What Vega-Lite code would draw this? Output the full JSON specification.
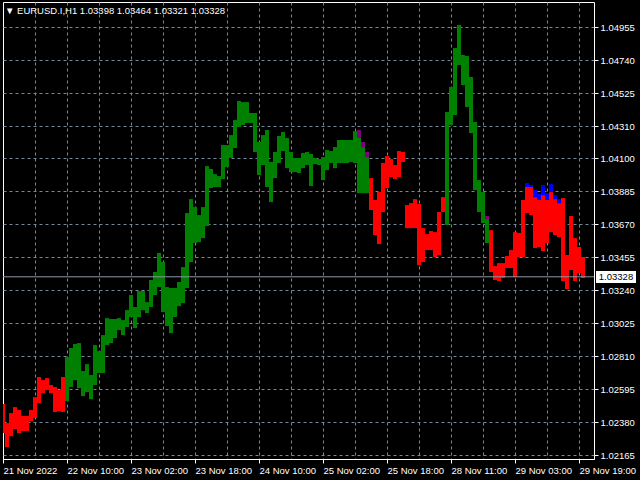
{
  "$schema": "https://vega.github.io/schema/vega-lite/v6.json",
  "width": 591,
  "height": 457,
  "autosize": "none",
  "padding": {"left": 3, "top": 2, "right": 46, "bottom": 21},
  "background": "#000000",
  "resolve": {"axis": {"x": "independent", "y": "independent"}},
  "config": {
    "view": {"stroke": "#ffffff", "strokeWidth": 1, "fill": "#000000"},
    "axis": {
      "labelColor": "#ffffff",
      "labelFont": "Liberation Sans",
      "labelFontSize": 9.5,
      "tickColor": "#ffffff",
      "domainColor": "#ffffff",
      "gridColor": "#778899",
      "gridDash": [3, 3],
      "gridWidth": 1,
      "labelOverlap": false,
      "labelBound": false,
      "labelFlush": false,
      "title": null
    },
    "text": {"font": "Liberation Sans"}
  },
  "datasets": {
    "bars": [
      {"i":0,"lo":1.02310,"hi":1.02499,"c":"down"},
      {"i":1,"lo":1.02219,"hi":1.02375,"c":"down"},
      {"i":2,"lo":1.02290,"hi":1.02440,"c":"down"},
      {"i":3,"lo":1.02336,"hi":1.02479,"c":"down"},
      {"i":4,"lo":1.02310,"hi":1.02460,"c":"down"},
      {"i":5,"lo":1.02323,"hi":1.02421,"c":"down"},
      {"i":6,"lo":1.02323,"hi":1.02421,"c":"down"},
      {"i":7,"lo":1.02388,"hi":1.02460,"c":"down"},
      {"i":8,"lo":1.02408,"hi":1.02544,"c":"down"},
      {"i":9,"lo":1.02505,"hi":1.02675,"c":"down"},
      {"i":10,"lo":1.02570,"hi":1.02655,"c":"down"},
      {"i":11,"lo":1.02590,"hi":1.02668,"c":"down"},
      {"i":12,"lo":1.02570,"hi":1.02623,"c":"down"},
      {"i":13,"lo":1.02447,"hi":1.02610,"c":"down"},
      {"i":14,"lo":1.02453,"hi":1.02590,"c":"down"},
      {"i":15,"lo":1.02447,"hi":1.02675,"c":"down"},
      {"i":16,"lo":1.02518,"hi":1.02805,"c":"up"},
      {"i":17,"lo":1.02610,"hi":1.02864,"c":"up"},
      {"i":18,"lo":1.02655,"hi":1.02890,"c":"up"},
      {"i":19,"lo":1.02603,"hi":1.02896,"c":"up"},
      {"i":20,"lo":1.02551,"hi":1.02714,"c":"up"},
      {"i":21,"lo":1.02577,"hi":1.02759,"c":"up"},
      {"i":22,"lo":1.02531,"hi":1.02688,"c":"up"},
      {"i":23,"lo":1.02623,"hi":1.02883,"c":"up"},
      {"i":24,"lo":1.02701,"hi":1.02844,"c":"up"},
      {"i":25,"lo":1.02701,"hi":1.02948,"c":"up"},
      {"i":26,"lo":1.02883,"hi":1.03059,"c":"up"},
      {"i":27,"lo":1.02896,"hi":1.03053,"c":"up"},
      {"i":28,"lo":1.02929,"hi":1.03053,"c":"up"},
      {"i":29,"lo":1.02981,"hi":1.03059,"c":"up"},
      {"i":30,"lo":1.02948,"hi":1.03046,"c":"up"},
      {"i":31,"lo":1.03001,"hi":1.03111,"c":"up"},
      {"i":32,"lo":1.03066,"hi":1.03209,"c":"up"},
      {"i":33,"lo":1.02994,"hi":1.03131,"c":"up"},
      {"i":34,"lo":1.03066,"hi":1.03235,"c":"up"},
      {"i":35,"lo":1.03111,"hi":1.03235,"c":"up"},
      {"i":36,"lo":1.03092,"hi":1.03163,"c":"up"},
      {"i":37,"lo":1.03131,"hi":1.03307,"c":"up"},
      {"i":38,"lo":1.03209,"hi":1.03359,"c":"up"},
      {"i":39,"lo":1.03261,"hi":1.03483,"c":"up"},
      {"i":40,"lo":1.03098,"hi":1.03424,"c":"up"},
      {"i":41,"lo":1.03007,"hi":1.03261,"c":"up"},
      {"i":42,"lo":1.02961,"hi":1.03255,"c":"up"},
      {"i":43,"lo":1.03066,"hi":1.03255,"c":"up"},
      {"i":44,"lo":1.03137,"hi":1.03294,"c":"up"},
      {"i":45,"lo":1.03157,"hi":1.03391,"c":"up"},
      {"i":46,"lo":1.03255,"hi":1.03743,"c":"up"},
      {"i":47,"lo":1.03424,"hi":1.03834,"c":"up"},
      {"i":48,"lo":1.03548,"hi":1.03782,"c":"up"},
      {"i":49,"lo":1.03554,"hi":1.03730,"c":"up"},
      {"i":50,"lo":1.03580,"hi":1.03782,"c":"up"},
      {"i":51,"lo":1.03659,"hi":1.04049,"c":"up"},
      {"i":52,"lo":1.03906,"hi":1.04030,"c":"up"},
      {"i":53,"lo":1.03913,"hi":1.03997,"c":"up"},
      {"i":54,"lo":1.03913,"hi":1.03984,"c":"up"},
      {"i":55,"lo":1.03965,"hi":1.04186,"c":"up"},
      {"i":56,"lo":1.04043,"hi":1.04186,"c":"up"},
      {"i":57,"lo":1.04102,"hi":1.04251,"c":"up"},
      {"i":58,"lo":1.04167,"hi":1.04349,"c":"up"},
      {"i":59,"lo":1.04304,"hi":1.04473,"c":"up"},
      {"i":60,"lo":1.04317,"hi":1.04466,"c":"up"},
      {"i":61,"lo":1.04330,"hi":1.04466,"c":"up"},
      {"i":62,"lo":1.04330,"hi":1.04395,"c":"up"},
      {"i":63,"lo":1.04141,"hi":1.04395,"c":"up"},
      {"i":64,"lo":1.03991,"hi":1.04206,"c":"up"},
      {"i":65,"lo":1.04056,"hi":1.04251,"c":"up"},
      {"i":66,"lo":1.03913,"hi":1.04284,"c":"up"},
      {"i":67,"lo":1.03815,"hi":1.04076,"c":"up"},
      {"i":68,"lo":1.03971,"hi":1.04141,"c":"up"},
      {"i":69,"lo":1.04069,"hi":1.04245,"c":"up"},
      {"i":70,"lo":1.04147,"hi":1.04271,"c":"up"},
      {"i":71,"lo":1.04036,"hi":1.04232,"c":"up"},
      {"i":72,"lo":1.04010,"hi":1.04141,"c":"up"},
      {"i":73,"lo":1.04010,"hi":1.04102,"c":"up"},
      {"i":74,"lo":1.04004,"hi":1.04102,"c":"up"},
      {"i":75,"lo":1.04036,"hi":1.04134,"c":"up"},
      {"i":76,"lo":1.04056,"hi":1.04141,"c":"up"},
      {"i":77,"lo":1.03919,"hi":1.04128,"c":"up"},
      {"i":78,"lo":1.04062,"hi":1.04102,"c":"up"},
      {"i":79,"lo":1.04056,"hi":1.04095,"c":"up"},
      {"i":80,"lo":1.03958,"hi":1.04108,"c":"up"},
      {"i":81,"lo":1.04023,"hi":1.04154,"c":"up"},
      {"i":82,"lo":1.04069,"hi":1.04147,"c":"up"},
      {"i":83,"lo":1.04036,"hi":1.04173,"c":"up"},
      {"i":84,"lo":1.04069,"hi":1.04219,"c":"up"},
      {"i":85,"lo":1.04069,"hi":1.04219,"c":"up"},
      {"i":86,"lo":1.04069,"hi":1.04219,"c":"up"},
      {"i":87,"lo":1.04076,"hi":1.04219,"c":"up"},
      {"i":88,"lo":1.04069,"hi":1.04277,"c":"up"},
      {"i":89,"lo":1.03873,"hi":1.04232,"c":"up"},
      {"i":89,"lo":1.04232,"hi":1.04284,"c":"purple"},
      {"i":90,"lo":1.03873,"hi":1.04173,"c":"up"},
      {"i":90,"lo":1.04173,"hi":1.04206,"c":"purple"},
      {"i":91,"lo":1.03873,"hi":1.04108,"c":"up"},
      {"i":91,"lo":1.04108,"hi":1.04141,"c":"purple"},
      {"i":92,"lo":1.03763,"hi":1.03971,"c":"down"},
      {"i":93,"lo":1.03600,"hi":1.03828,"c":"down"},
      {"i":94,"lo":1.03541,"hi":1.03880,"c":"down"},
      {"i":95,"lo":1.03750,"hi":1.04069,"c":"down"},
      {"i":96,"lo":1.03906,"hi":1.04115,"c":"down"},
      {"i":97,"lo":1.03978,"hi":1.04095,"c":"down"},
      {"i":98,"lo":1.03965,"hi":1.04056,"c":"down"},
      {"i":99,"lo":1.03978,"hi":1.04147,"c":"down"},
      {"i":100,"lo":1.04076,"hi":1.04141,"c":"down"},
      {"i":101,"lo":1.03645,"hi":1.03795,"c":"down"},
      {"i":102,"lo":1.03645,"hi":1.03808,"c":"down"},
      {"i":103,"lo":1.03645,"hi":1.03834,"c":"down"},
      {"i":104,"lo":1.03404,"hi":1.03802,"c":"down"},
      {"i":105,"lo":1.03424,"hi":1.03645,"c":"down"},
      {"i":106,"lo":1.03502,"hi":1.03606,"c":"down"},
      {"i":107,"lo":1.03502,"hi":1.03626,"c":"down"},
      {"i":108,"lo":1.03457,"hi":1.03619,"c":"down"},
      {"i":109,"lo":1.03470,"hi":1.03750,"c":"down"},
      {"i":110,"lo":1.03750,"hi":1.03847,"c":"down"},
      {"i":111,"lo":1.03665,"hi":1.04401,"c":"up"},
      {"i":112,"lo":1.04317,"hi":1.04564,"c":"up"},
      {"i":113,"lo":1.04382,"hi":1.04818,"c":"up"},
      {"i":114,"lo":1.04707,"hi":1.04968,"c":"up"},
      {"i":115,"lo":1.04577,"hi":1.04773,"c":"up"},
      {"i":116,"lo":1.04434,"hi":1.04766,"c":"up"},
      {"i":117,"lo":1.04264,"hi":1.04629,"c":"up"},
      {"i":118,"lo":1.03893,"hi":1.04336,"c":"up"},
      {"i":119,"lo":1.03750,"hi":1.03958,"c":"up"},
      {"i":120,"lo":1.03678,"hi":1.03880,"c":"up"},
      {"i":121,"lo":1.03548,"hi":1.03704,"c":"up"},
      {"i":121,"lo":1.03704,"hi":1.03724,"c":"purple"},
      {"i":122,"lo":1.03359,"hi":1.03632,"c":"down"},
      {"i":123,"lo":1.03307,"hi":1.03398,"c":"down"},
      {"i":124,"lo":1.03300,"hi":1.03417,"c":"down"},
      {"i":125,"lo":1.03320,"hi":1.03417,"c":"down"},
      {"i":126,"lo":1.03385,"hi":1.03463,"c":"down"},
      {"i":127,"lo":1.03385,"hi":1.03502,"c":"down"},
      {"i":128,"lo":1.03326,"hi":1.03619,"c":"down"},
      {"i":129,"lo":1.03457,"hi":1.03613,"c":"down"},
      {"i":130,"lo":1.03457,"hi":1.03828,"c":"down"},
      {"i":131,"lo":1.03743,"hi":1.03913,"c":"down"},
      {"i":131,"lo":1.03913,"hi":1.03939,"c":"blue"},
      {"i":132,"lo":1.03730,"hi":1.03913,"c":"down"},
      {"i":132,"lo":1.03913,"hi":1.03926,"c":"blue"},
      {"i":133,"lo":1.03515,"hi":1.03847,"c":"down"},
      {"i":133,"lo":1.03847,"hi":1.03893,"c":"blue"},
      {"i":134,"lo":1.03522,"hi":1.03828,"c":"down"},
      {"i":134,"lo":1.03828,"hi":1.03867,"c":"blue"},
      {"i":135,"lo":1.03496,"hi":1.03860,"c":"down"},
      {"i":135,"lo":1.03860,"hi":1.03926,"c":"blue"},
      {"i":136,"lo":1.03548,"hi":1.03828,"c":"down"},
      {"i":136,"lo":1.03828,"hi":1.03873,"c":"blue"},
      {"i":137,"lo":1.03619,"hi":1.03880,"c":"down"},
      {"i":137,"lo":1.03880,"hi":1.03932,"c":"blue"},
      {"i":138,"lo":1.03600,"hi":1.03834,"c":"down"},
      {"i":138,"lo":1.03834,"hi":1.03860,"c":"blue"},
      {"i":139,"lo":1.03587,"hi":1.03808,"c":"down"},
      {"i":139,"lo":1.03808,"hi":1.03834,"c":"blue"},
      {"i":140,"lo":1.03300,"hi":1.03841,"c":"down"},
      {"i":141,"lo":1.03248,"hi":1.03470,"c":"down"},
      {"i":142,"lo":1.03372,"hi":1.03724,"c":"down"},
      {"i":143,"lo":1.03300,"hi":1.03580,"c":"down"},
      {"i":144,"lo":1.03352,"hi":1.03522,"c":"down"},
      {"i":145,"lo":1.03320,"hi":1.03457,"c":"down"}
    ],
    "info": [
      {"label": "▼ EURUSD.I,H1  1.03398 1.03464 1.03321 1.03328", "price": 1.03328}
    ]
  },
  "layer": [
    {
      "data": {"name": "bars"},
      "mark": {"type": "bar", "width": 4, "clip": true},
      "encoding": {
        "x": {
          "field": "i",
          "type": "quantitative",
          "scale": {"domain": [0, 147.75], "nice": false, "zero": false, "padding": 0},
          "axis": {
            "orient": "bottom",
            "values": [0, 8, 16, 24, 32, 40, 48, 56, 64, 72, 80, 88, 96, 104, 112, 120, 128, 136, 144],
            "grid": true,
            "gridOpacity": {"condition": {"test": "datum.value == 0", "value": 0}, "value": 1},
            "tickSize": 4,
            "tickOpacity": {"condition": {"test": "datum.value % 16 == 0", "value": 1}, "value": 0},
            "labelExpr": "datum.value % 16 == 0 ? ['21 Nov 2022','22 Nov 10:00','23 Nov 02:00','23 Nov 18:00','24 Nov 10:00','25 Nov 02:00','25 Nov 18:00','28 Nov 11:00','29 Nov 03:00','29 Nov 19:00'][datum.value / 16] : ''",
            "labelAlign": "left",
            "labelBaseline": "top",
            "labelPadding": 2,
            "labelOverlap": false,
            "title": null
          }
        },
        "y": {
          "field": "lo",
          "type": "quantitative",
          "scale": {"domain": [1.02141, 1.05118], "nice": false, "zero": false, "padding": 0},
          "axis": {
            "orient": "right",
            "values": [1.02165, 1.0238, 1.02595, 1.0281, 1.03025, 1.0324, 1.03455, 1.0367, 1.03885, 1.041, 1.0431, 1.04525, 1.0474, 1.04955],
            "format": ".5f",
            "grid": true,
            "domain": false,
            "tickSize": 4,
            "labelPadding": 2,
            "labelOverlap": false,
            "title": null
          }
        },
        "y2": {"field": "hi"},
        "color": {
          "field": "c",
          "type": "nominal",
          "scale": {"domain": ["up", "down", "blue", "purple"], "range": ["#008000", "#ff0000", "#0000ff", "#800080"]},
          "legend": null
        }
      }
    },
    {
      "data": {"name": "info"},
      "mark": {"type": "rule", "color": "#8c96a3", "strokeWidth": 1},
      "encoding": {
        "y": {"field": "price", "type": "quantitative", "axis": null}
      }
    },
    {
      "data": {"name": "info"},
      "mark": {"type": "rect", "fill": "#ffffff", "clip": false},
      "encoding": {
        "x": {"datum": 148.25, "type": "quantitative", "axis": null},
        "x2": {"datum": 158.25},
        "y": {"datum": 1.03365, "type": "quantitative", "axis": null},
        "y2": {"datum": 1.03287}
      }
    },
    {
      "data": {"name": "info"},
      "mark": {"type": "text", "color": "#000000", "fontSize": 9.5, "align": "center", "baseline": "middle", "clip": false},
      "encoding": {
        "x": {"datum": 153.25, "type": "quantitative", "axis": null},
        "y": {"field": "price", "type": "quantitative", "axis": null},
        "text": {"field": "price", "type": "quantitative", "format": ".5f"}
      }
    },
    {
      "data": {"name": "info"},
      "mark": {"type": "text", "color": "#ffffff", "fontSize": 9.5, "align": "left", "baseline": "top", "dx": 2, "dy": 4},
      "encoding": {
        "x": {"datum": 0, "type": "quantitative", "axis": null},
        "y": {"datum": 1.05118, "type": "quantitative", "axis": null},
        "text": {"field": "label", "type": "nominal"}
      }
    }
  ]
}
